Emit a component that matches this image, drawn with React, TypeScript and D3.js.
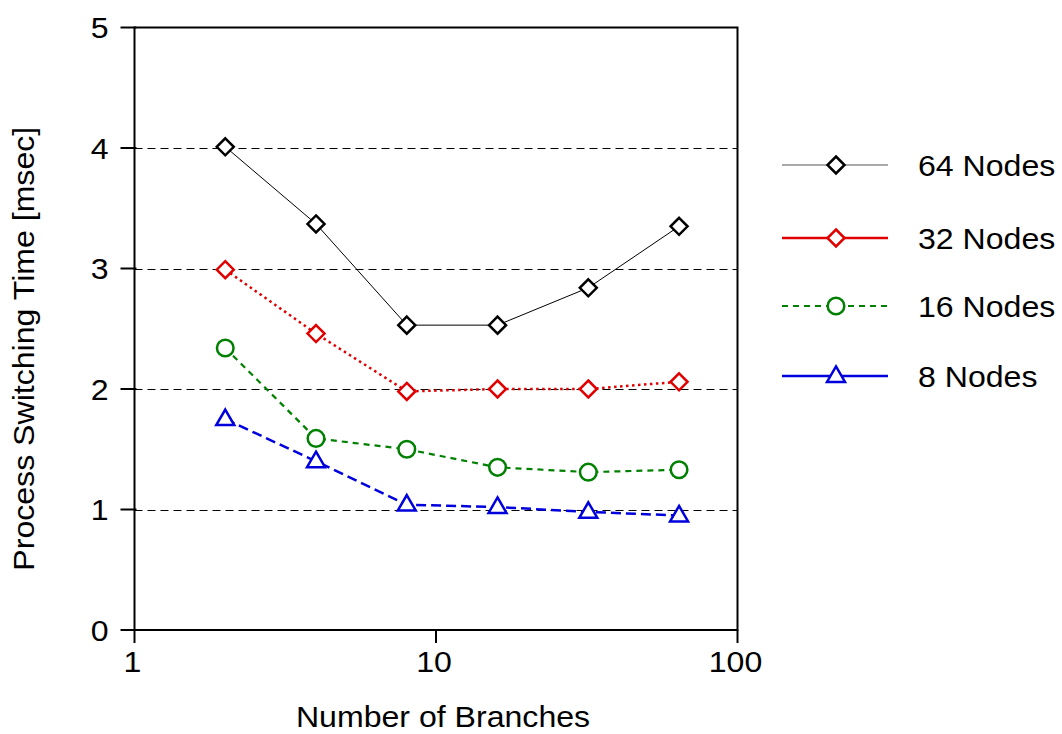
import React from "react";
import * as d3 from "d3";

const branches = [2, 4, 8, 16, 32, 64];
const nodes64 = [4.01, 3.37, 2.53, 2.53, 2.84, 3.35];
const nodes32 = [2.99, 2.46, 1.98, 2.0, 2.0, 2.06];
const nodes16 = [2.34, 1.59, 1.5, 1.35, 1.31, 1.33];
const nodes8 = [1.75, 1.4, 1.04, 1.02, 0.98, 0.95];
const seriesNames = ["64 Nodes", "32 Nodes", "16 Nodes", "8 Nodes"];
const xTicks = [1, 10, 100];
const yTicks = [0, 1, 2, 3, 4, 5];
const gridValues = [1, 2, 3, 4];

const W = 1062;
const H = 734;
const left = 134.5;
const right = 737.5;
const top = 27.5;
const bottom = 630;
const font = "'Liberation Sans', Arial, sans-serif";
const FS = 30;
const SX = 1.07;

type Style = {
  color: string;
  width: number;
  dash: string | null;
  legendDash: string | null;
  marker: "diamond" | "circle" | "triangle";
  lineWidthLegend: number;
};

const styles: Style[] = [
  { color: "#000000", width: 1, dash: null, legendDash: null, marker: "diamond", lineWidthLegend: 1.2 },
  { color: "#e00000", width: 2.5, dash: "2.5,3.5", legendDash: null, marker: "diamond", lineWidthLegend: 2.5 },
  { color: "#008000", width: 2.2, dash: "6,5", legendDash: "6,5", marker: "circle", lineWidthLegend: 2.2 },
  { color: "#0000dd", width: 2.5, dash: "10,5", legendDash: null, marker: "triangle", lineWidthLegend: 2.5 },
];

function T({
  x,
  y,
  anchor,
  rotate,
  children,
}: {
  x: number;
  y: number;
  anchor: "start" | "middle" | "end";
  rotate?: number;
  children: React.ReactNode;
}) {
  return (
    <text
      transform={`translate(${x},${y})${rotate ? ` rotate(${rotate})` : ""} scale(${SX},1)`}
      textAnchor={anchor}
      fontSize={FS}
      fill="#000"
    >
      {children}
    </text>
  );
}

function Marker({ kind, x, y, color }: { kind: string; x: number; y: number; color: string }) {
  if (kind === "diamond") {
    const r = 8.5;
    return (
      <path
        d={`M${x},${y - r}L${x + r},${y}L${x},${y + r}L${x - r},${y}Z`}
        fill="white"
        stroke={color}
        strokeWidth={2.5}
      />
    );
  }
  if (kind === "circle") {
    return <circle cx={x} cy={y} r={8.3} fill="white" stroke={color} strokeWidth={2.5} />;
  }
  const h = 15.5;
  const w = 9;
  return (
    <path
      d={`M${x},${y - h * 0.62}L${x + w},${y + h * 0.38}L${x - w},${y + h * 0.38}Z`}
      fill="white"
      stroke={color}
      strokeWidth={2.5}
    />
  );
}

export default function App() {
  const x = d3.scaleLog().domain([1, 100]).range([left, right]);
  const y = d3.scaleLinear().domain([0, 5]).range([bottom, top]);
  const data = [nodes64, nodes32, nodes16, nodes8];
  const line = d3
    .line<number>()
    .x((_, i) => x(branches[i]))
    .y((d) => y(d));

  const legendY = [165, 238, 306, 376];

  return (
    <svg
      width={W}
      height={H}
      style={{ position: "absolute", left: 0, top: 0, background: "white" }}
      fontFamily={font}
    >
      {gridValues.map((v) => (
        <line
          key={v}
          x1={left}
          x2={right}
          y1={Math.round(y(v)) + 0.5}
          y2={Math.round(y(v)) + 0.5}
          stroke="#000"
          strokeWidth={1}
          strokeDasharray="8,5"
        />
      ))}
      <rect
        x={left}
        y={top}
        width={right - left}
        height={bottom - top}
        fill="none"
        stroke="#000"
        strokeWidth={2}
      />
      {yTicks.map((v) => (
        <g key={v}>
          <line x1={left - 14} x2={left + 2} y1={y(v)} y2={y(v)} stroke="#000" strokeWidth={2} />
          <T x={left - 26} y={y(v) + 10.5} anchor="end">
            {v}
          </T>
        </g>
      ))}
      {xTicks.map((v) => (
        <g key={v}>
          <line x1={x(v)} x2={x(v)} y1={bottom} y2={bottom + 13} stroke="#000" strokeWidth={2} />
          <T x={x(v) - 2} y={bottom + 42} anchor="middle">
            {v}
          </T>
        </g>
      ))}
      {data.map((vals, si) => {
        const s = styles[si];
        return (
          <g key={si}>
            <path
              d={line(vals) || ""}
              fill="none"
              stroke={s.color}
              strokeWidth={s.width}
              strokeDasharray={s.dash || undefined}
            />
            {vals.map((v, i) => (
              <Marker key={i} kind={s.marker} x={x(branches[i])} y={y(v)} color={s.color} />
            ))}
          </g>
        );
      })}
      {seriesNames.map((name, si) => {
        const s = styles[si];
        const ly = legendY[si];
        return (
          <g key={name}>
            <line
              x1={782}
              x2={888}
              y1={ly}
              y2={ly}
              stroke={si === 0 ? "#555" : s.color}
              strokeWidth={s.lineWidthLegend}
              strokeDasharray={s.legendDash || undefined}
            />
            <Marker kind={s.marker} x={836} y={ly} color={s.color} />
            <T x={918} y={ly + 11} anchor="start">
              {name}
            </T>
          </g>
        );
      })}
      <T x={443} y={727} anchor="middle">
        Number of Branches
      </T>
      <T x={34} y={(top + bottom) / 2 + 20} anchor="middle" rotate={-90}>
        Process Switching Time [msec]
      </T>
    </svg>
  );
}
